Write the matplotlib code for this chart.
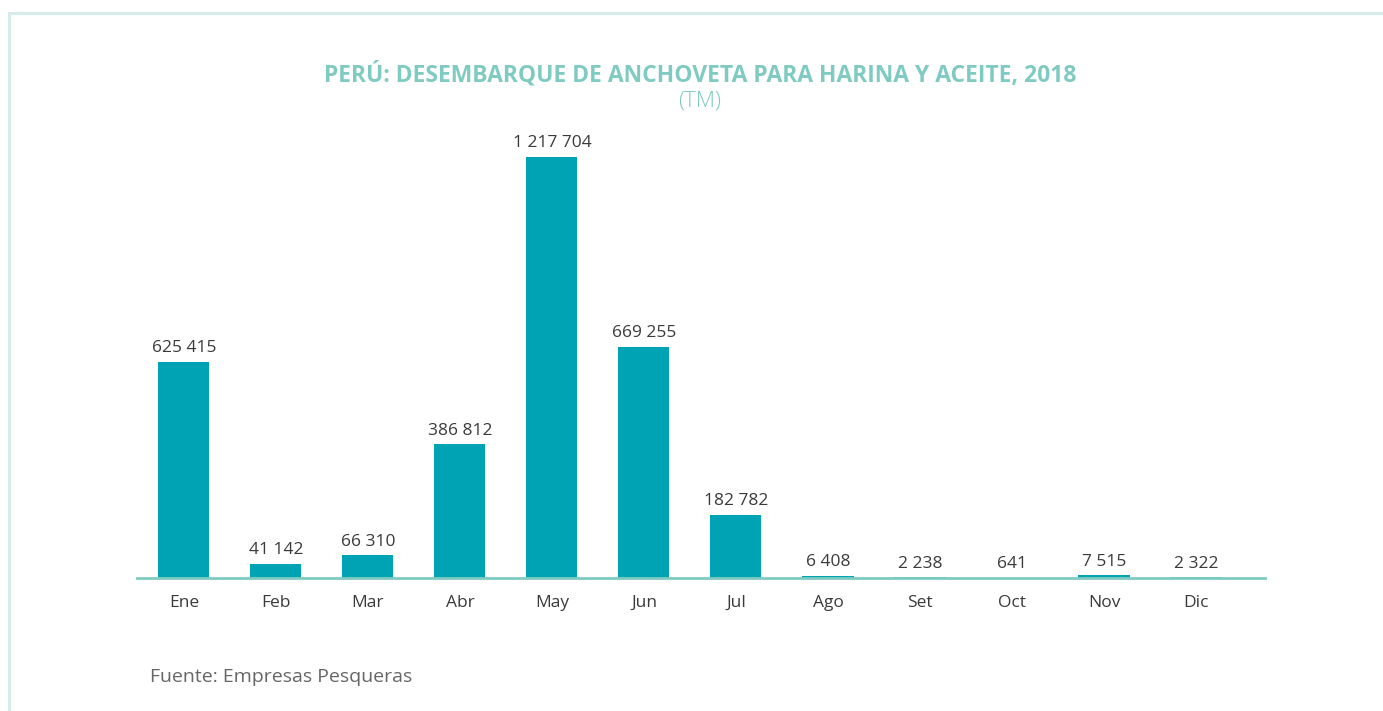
import matplotlib
matplotlib.use("Agg")
import matplotlib.pyplot as plt
from matplotlib.patches import Rectangle

# Monthly anchovy landings for fishmeal and oil, 2018 (metric tonnes)
months = ["Ene", "Feb", "Mar", "Abr", "May", "Jun", "Jul", "Ago", "Set", "Oct", "Nov", "Dic"]
landings = [625415, 41142, 66310, 386812, 1217704, 669255, 182782, 6408, 2238, 641, 7515, 2322]

title = "PERÚ: DESEMBARQUE DE ANCHOVETA PARA HARINA Y ACEITE, 2018"
subtitle = "(TM)"
source = "Fuente: Empresas Pesqueras"

bar_color = "#00a3b4"
teal_light = "#7fcbc1"
frame_color = "#d6eceb"
text_dark = "#3a3a3a"

plt.rcParams["font.family"] = ["Open Sans", "DejaVu Sans"]

fig = plt.figure(figsize=(13.83, 7.11), dpi=100)
fig.patch.set_facecolor("white")

# light frame around the panel (open towards right and bottom)
fig.patches.append(Rectangle((8.5 / 1383, -0.1), 1.2, (711 - 12.5) / 711 + 0.1,
                             transform=fig.transFigure, fill=False,
                             edgecolor=frame_color, linewidth=2.2))

ax = fig.add_axes([137 / 1383, 1 - 578 / 711, 1128 / 1383, 449.5 / 711])
x = list(range(len(months)))
ax.bar(x, landings, width=0.555, color=bar_color, zorder=2)
ax.set_xlim(-0.51, 11.75)
ax.set_ylim(0, 1.3e6)

for xi, v in zip(x, landings):
    label = f"{v:,}".replace(",", " ")
    ax.annotate(label, (xi, v), xytext=(0, 4), textcoords="offset points",
                ha="center", va="bottom", fontsize=12.5, color=text_dark)

for side in ["top", "right", "left"]:
    ax.spines[side].set_visible(False)
ax.spines["bottom"].set_color(teal_light)
ax.spines["bottom"].set_linewidth(2)
ax.set_yticks([])
ax.set_xticks(x)
ax.set_xticklabels(months, fontsize=12.5, color=text_dark)
ax.tick_params(axis="x", length=0, pad=12)

fig.text(700 / 1383, 1 - 75 / 711, title, ha="center", va="center",
         fontsize=16.5, fontweight="bold", color=teal_light)
fig.text(700 / 1383, 1 - 101 / 711, subtitle, ha="center", va="center",
         fontsize=16, fontweight="light", color=teal_light)
fig.text(150 / 1383, 1 - 677 / 711, source, ha="left", va="center",
         fontsize=14, color="#666666")

fig.savefig("out.png", dpi=100)
